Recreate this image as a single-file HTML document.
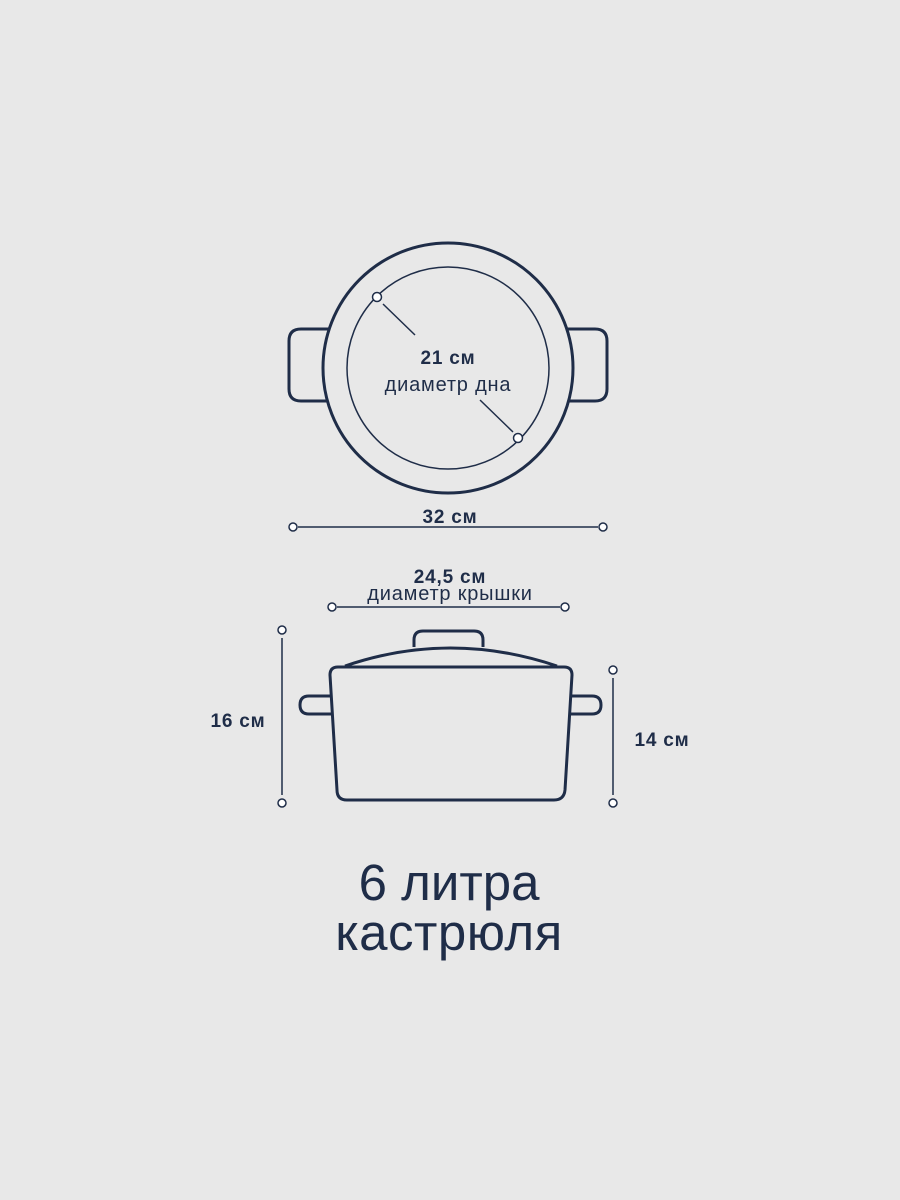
<!DOCTYPE html>
<html><head><meta charset="utf-8"><style>
html,body{margin:0;padding:0;background:#e8e8e8;}
svg{display:block}
text{font-family:"Liberation Sans","DejaVu Sans",sans-serif;fill:#1f2d48}
.b{font-size:19px;font-weight:bold;letter-spacing:0.8px}
.r{font-size:20px;letter-spacing:0.8px}
</style></head><body>
<svg width="900" height="1200" viewBox="0 0 900 1200" xmlns="http://www.w3.org/2000/svg">
<rect width="900" height="1200" fill="#e8e8e8"/>
<g fill="none" stroke="#1f2d48" stroke-width="3" stroke-linejoin="round">
  <path d="M330 329 H301 Q289 329 289 341 V389 Q289 401 301 401 H330"/>
  <path d="M566 329 H595 Q607 329 607 341 V389 Q607 401 595 401 H566"/>
  <circle cx="448" cy="368" r="125" fill="#e8e8e8"/>
</g>
<g fill="none" stroke="#1f2d48" stroke-width="1.5">
  <circle cx="448" cy="368" r="101"/>
  <line x1="383" y1="304" x2="415" y2="335"/>
  <line x1="480" y1="400" x2="513" y2="432"/>
  <line x1="298" y1="527" x2="598" y2="527"/>
  <line x1="337" y1="607" x2="560" y2="607"/>
  <line x1="282" y1="638" x2="282" y2="795"/>
  <line x1="613" y1="678" x2="613" y2="795"/>
</g>
<g fill="#fff" stroke="#1f2d48" stroke-width="1.5">
  <circle cx="377" cy="297" r="4.5"/>
  <circle cx="518" cy="438" r="4.5"/>
  <circle cx="293" cy="527" r="4"/>
  <circle cx="603" cy="527" r="4"/>
  <circle cx="332" cy="607" r="4"/>
  <circle cx="565" cy="607" r="4"/>
  <circle cx="282" cy="630" r="4"/>
  <circle cx="282" cy="803" r="4"/>
  <circle cx="613" cy="670" r="4"/>
  <circle cx="613" cy="803" r="4"/>
</g>
<g fill="none" stroke="#1f2d48" stroke-width="3" stroke-linejoin="round">
  <path d="M414 647 V640 Q414 631 423 631 H474 Q483 631 483 640 V647"/>
  <path d="M345 666 Q450 630 557 666"/>
  <path d="M330 696 H309 Q300 696 300 705 Q300 714 309 714 H331"/>
  <path d="M572 696 H592 Q601 696 601 705 Q601 714 592 714 H571"/>
  <path d="M338 667 H564 Q572 667 572 675 L565 790 Q564 800 554 800 H347 Q337 800 337 790 L330 675 Q330 667 338 667 Z"/>
</g>
<text x="448" y="364" class="b" text-anchor="middle">21 см</text>
<text x="448" y="391" class="r" text-anchor="middle">диаметр дна</text>
<text x="450" y="523" class="b" text-anchor="middle">32 см</text>
<text x="450" y="583" class="b" text-anchor="middle">24,5 см</text>
<text x="450" y="600" class="r" text-anchor="middle">диаметр крышки</text>
<text x="238" y="727" class="b" text-anchor="middle">16 см</text>
<text x="662" y="746" class="b" text-anchor="middle">14 см</text>
<text x="449" y="900" font-size="51" text-anchor="middle">6 литра</text>
<text x="449" y="950" font-size="51" text-anchor="middle" letter-spacing="0.5">кастрюля</text>
</svg>
</body></html>
